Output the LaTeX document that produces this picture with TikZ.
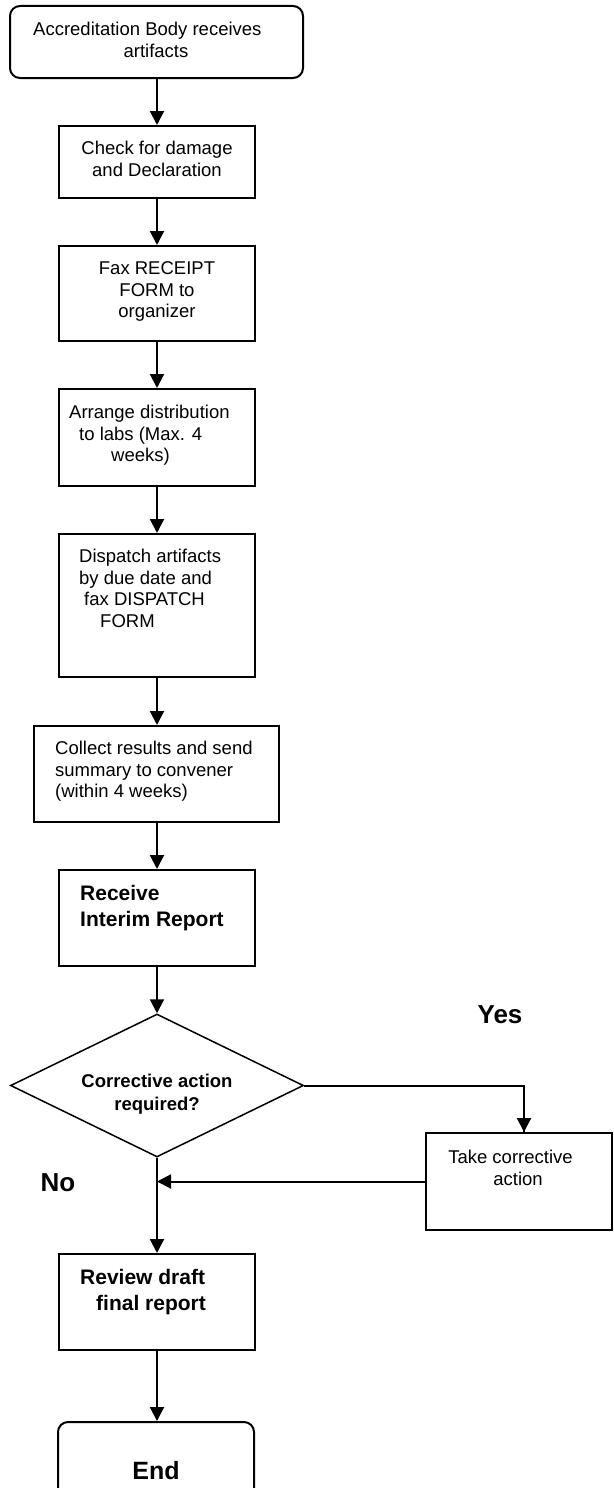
\documentclass[tikz,border=0pt]{standalone}
\usepackage{fontspec}
\setmainfont{Liberation Sans}
\usetikzlibrary{arrows.meta,shapes.geometric}
\tikzset{
  box/.style={draw, line width=2pt, inner sep=0pt, minimum width=196pt},
  rbox/.style={box, rounded corners=10pt},
  arr/.style={line width=2pt, -{Triangle[width=14pt,length=14pt]}},
  ln/.style={line width=2pt},
  tx/.style={inner sep=0pt, font=\fontsize{18.5pt}{22pt}\selectfont},
  bx/.style={inner sep=0pt, font=\fontsize{21pt}{26pt}\selectfont\bfseries},
  big/.style={inner sep=0pt, font=\fontsize{26pt}{30pt}\selectfont\bfseries},
}
\begin{document}
\begin{tikzpicture}[x=1pt,y=-1pt]
\useasboundingbox (0,0) rectangle (613,1488);
\clip (0,0) rectangle (613,1488);
% boxes
\node[rbox, minimum width=293pt, minimum height=72pt] (b1) at (156.5,42) {};
\node[box, minimum height=72pt] (b2) at (157,162) {};
\node[box, minimum height=95pt] (b3) at (157,293.5) {};
\node[box, minimum height=97pt] (b4) at (157,437.5) {};
\node[box, minimum height=143pt] (b5) at (157,605.5) {};
\node[box, minimum width=245pt, minimum height=96pt] (b6) at (156.5,774) {};
\node[box, minimum height=96pt] (b7) at (157,918) {};
\node[diamond, draw, line width=1.5pt, inner sep=0pt, minimum width=293pt, minimum height=143pt] (dia) at (157,1085.5) {};
\node[box, minimum width=186pt, minimum height=97pt] (take) at (519,1181.5) {};
\node[box, minimum height=96pt] (b8) at (157,1302) {};
\node[rbox, minimum height=110pt] (end) at (156,1477) {};
% texts
\node[tx, anchor=base west] (t1a) at (33,36) {Accreditation Body receives};
\node[tx, anchor=base] (t1b) at (156,58) {artifacts};
\node[tx, anchor=base] (t2a) at (157,154.5) {Check for damage};
\node[tx, anchor=base] (t2b) at (157,176.5) {and Declaration};
\node[tx, anchor=base] (t3a) at (157,274.5) {Fax RECEIPT};
\node[tx, anchor=base] (t3b) at (157,296.2) {FORM to};
\node[tx, anchor=base] (t3c) at (157,317.9) {organizer};
\node[tx, anchor=base west] (t4a) at (69,418.5) {Arrange distribution};
\node[tx, anchor=base west] (t4b) at (79,440.2) {to labs (Max. 4};
\node[tx, anchor=base west] (t4c) at (111,461.9) {weeks)};
\node[tx, anchor=base west] (t5a) at (79,562.5) {Dispatch artifacts};
\node[tx, anchor=base west] (t5b) at (79,584.2) {by due date and};
\node[tx, anchor=base west] (t5c) at (84,605.9) {fax DISPATCH};
\node[tx, anchor=base west] (t5d) at (100,627.6) {FORM};
\node[tx, anchor=base west] (t6a) at (55,754.5) {Collect results and send};
\node[tx, anchor=base west] (t6b) at (55,776) {summary to convener};
\node[tx, anchor=base west] (t6c) at (55,797.5) {(within 4 weeks)};
\node[bx, anchor=base west] (t7a) at (80,900.5) {Receive};
\node[bx, anchor=base west] (t7b) at (80,926.5) {Interim Report};
\node[tx, anchor=base, font=\fontsize{18.5pt}{22pt}\selectfont\bfseries] (tda) at (157,1087.5) {Corrective action};
\node[tx, anchor=base, font=\fontsize{18.5pt}{22pt}\selectfont\bfseries] (tdb) at (157,1110) {required?};
\node[tx, anchor=base] (tta) at (510.5,1163.5) {Take corrective};
\node[tx, anchor=base] (ttb) at (518,1185.5) {action};
\node[bx, anchor=base west] (t8a) at (80,1284.5) {Review draft};
\node[bx, anchor=base west] (t8b) at (96,1310.5) {final report};
\node[big, font=\fontsize{25pt}{30pt}\selectfont\bfseries] (tend) at (156,1471) {End};
\node[big] (yes) at (500,1015) {Yes};
\node[big] (no) at (58,1183) {No};
% connectors
\draw[arr] (b1.south -| b2.north) -- (b2.north);
\draw[arr] (b2.south) -- (b3.north);
\draw[arr] (b3.south) -- (b4.north);
\draw[arr] (b4.south) -- (b5.north);
\draw[arr] (b5.south) -- (b6.north -| b5.south);
\draw[arr] (b6.south -| b7.north) -- (b7.north);
\draw[arr] (b7.south) -- (dia.north);
\draw[ln] (dia.east) -| ([xshift=5pt]take.north);
\draw[arr] ([xshift=5pt,yshift=-1pt]dia.east -| take.north) -- ([xshift=5pt]take.north);
\coordinate (join) at (dia.south |- take.west);
\draw[arr] (take.west) -- (join);
\draw[arr] (dia.south) -- (b8.north);
\draw[arr] (b8.south) -- (end.north -| b8.south);
\end{tikzpicture}
\end{document}
